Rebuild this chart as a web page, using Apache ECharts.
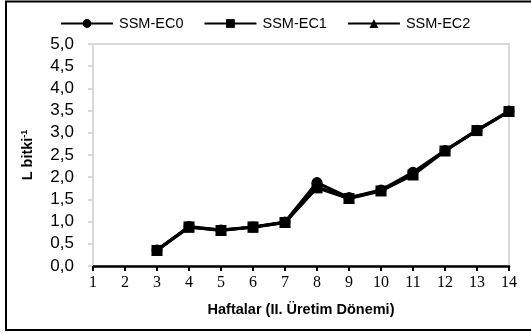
<!DOCTYPE html>
<html><head><meta charset="utf-8">
<script src="https://cdn.jsdelivr.net/npm/echarts@6/dist/echarts.min.js"></script>
<style>html,body{margin:0;padding:0;background:#fff}#c{width:531px;height:333px}</style>
</head><body><div id="c"></div>
<script>
var weeks = ['1','2','3','4','5','6','7','8','9','10','11','12','13','14'];
var ec0 = [null, null, 0.36, 0.89, 0.81, 0.88, 0.99, 1.88, 1.54, 1.71, 2.11, 2.60, 3.06, 3.49];
var ec1 = [null, null, 0.35, 0.88, 0.80, 0.88, 0.98, 1.76, 1.52, 1.69, 2.05, 2.59, 3.05, 3.48];
var ec2 = [null, null, 0.36, 0.87, 0.81, 0.87, 0.98, 1.78, 1.53, 1.70, 2.07, 2.60, 3.05, 3.48];
var seriesNames = ['SSM-EC0', 'SSM-EC1', 'SSM-EC2'];

var chart = echarts.init(document.getElementById('c'));
function mk(name, data, symbol, size) {
  return {
    name: name, type: 'line', data: data, symbol: symbol, symbolSize: size,
    showSymbol: true, connectNulls: false,
    lineStyle: {color: '#000', width: 3},
    itemStyle: {color: '#000'},
    emphasis: {disabled: true}, animation: false
  };
}
chart.setOption({
  animation: false,
  graphic: [{
    type: 'rect', shape: {x: 6, y: 1.5, width: 540, height: 328.5},
    style: {fill: 'none', stroke: '#000', lineWidth: 2}, silent: true
  }],
  legend: {
    top: 11, left: 55, itemWidth: 52, itemHeight: 11, itemGap: 20,
    textStyle: {fontFamily: 'Liberation Sans', fontSize: 14.5, color: '#000', padding: [0,0,0,1]},
    data: seriesNames
  },
  grid: {left: 93, right: 22, top: 44, bottom: 67, show: true, borderColor: '#d9d9d9', borderWidth: 2},
  xAxis: {
    type: 'category', data: weeks, boundaryGap: false,
    axisLine: {lineStyle: {color: '#000', width: 2.5}},
    axisTick: {alignWithLabel: true, length: 5, lineStyle: {color: '#000', width: 2}},
    axisLabel: {fontFamily: 'Liberation Serif', fontSize: 16, color: '#000', margin: 9},
    name: 'Haftalar (II. Üretim Dönemi)', nameLocation: 'middle', nameGap: 36,
    nameTextStyle: {fontFamily: 'Liberation Sans', fontSize: 14.5, fontWeight: 'bold', color: '#000'}
  },
  yAxis: {
    type: 'value', min: 0, max: 5, interval: 0.5,
    axisLine: {show: true, lineStyle: {color: '#d9d9d9', width: 2}},
    axisTick: {show: true, length: 5, lineStyle: {color: '#d9d9d9', width: 2}},
    splitLine: {show: false},
    axisLabel: {fontFamily: 'Liberation Sans', fontSize: 17, color: '#000', margin: 19,
      formatter: function (v) { return v.toFixed(1).replace('.', ','); }},
    name: '{a|L bitki}{b|-1}', nameLocation: 'middle', nameGap: 57, nameRotate: 90,
    nameTextStyle: {
      rich: {
        a: {fontFamily: 'Liberation Sans', fontSize: 14.5, fontWeight: 'bold', color: '#000', lineHeight: 16},
        b: {fontFamily: 'Liberation Sans', fontSize: 9, fontWeight: 'bold', color: '#000', verticalAlign: 'top', lineHeight: 16, padding: [0,0,6,0]}
      }
    }
  },
  series: [
    mk(seriesNames[0], ec0, 'circle', 11),
    mk(seriesNames[1], ec1, 'rect', 11),
    mk(seriesNames[2], ec2, 'triangle', 11)
  ]
});
</script></body></html>
